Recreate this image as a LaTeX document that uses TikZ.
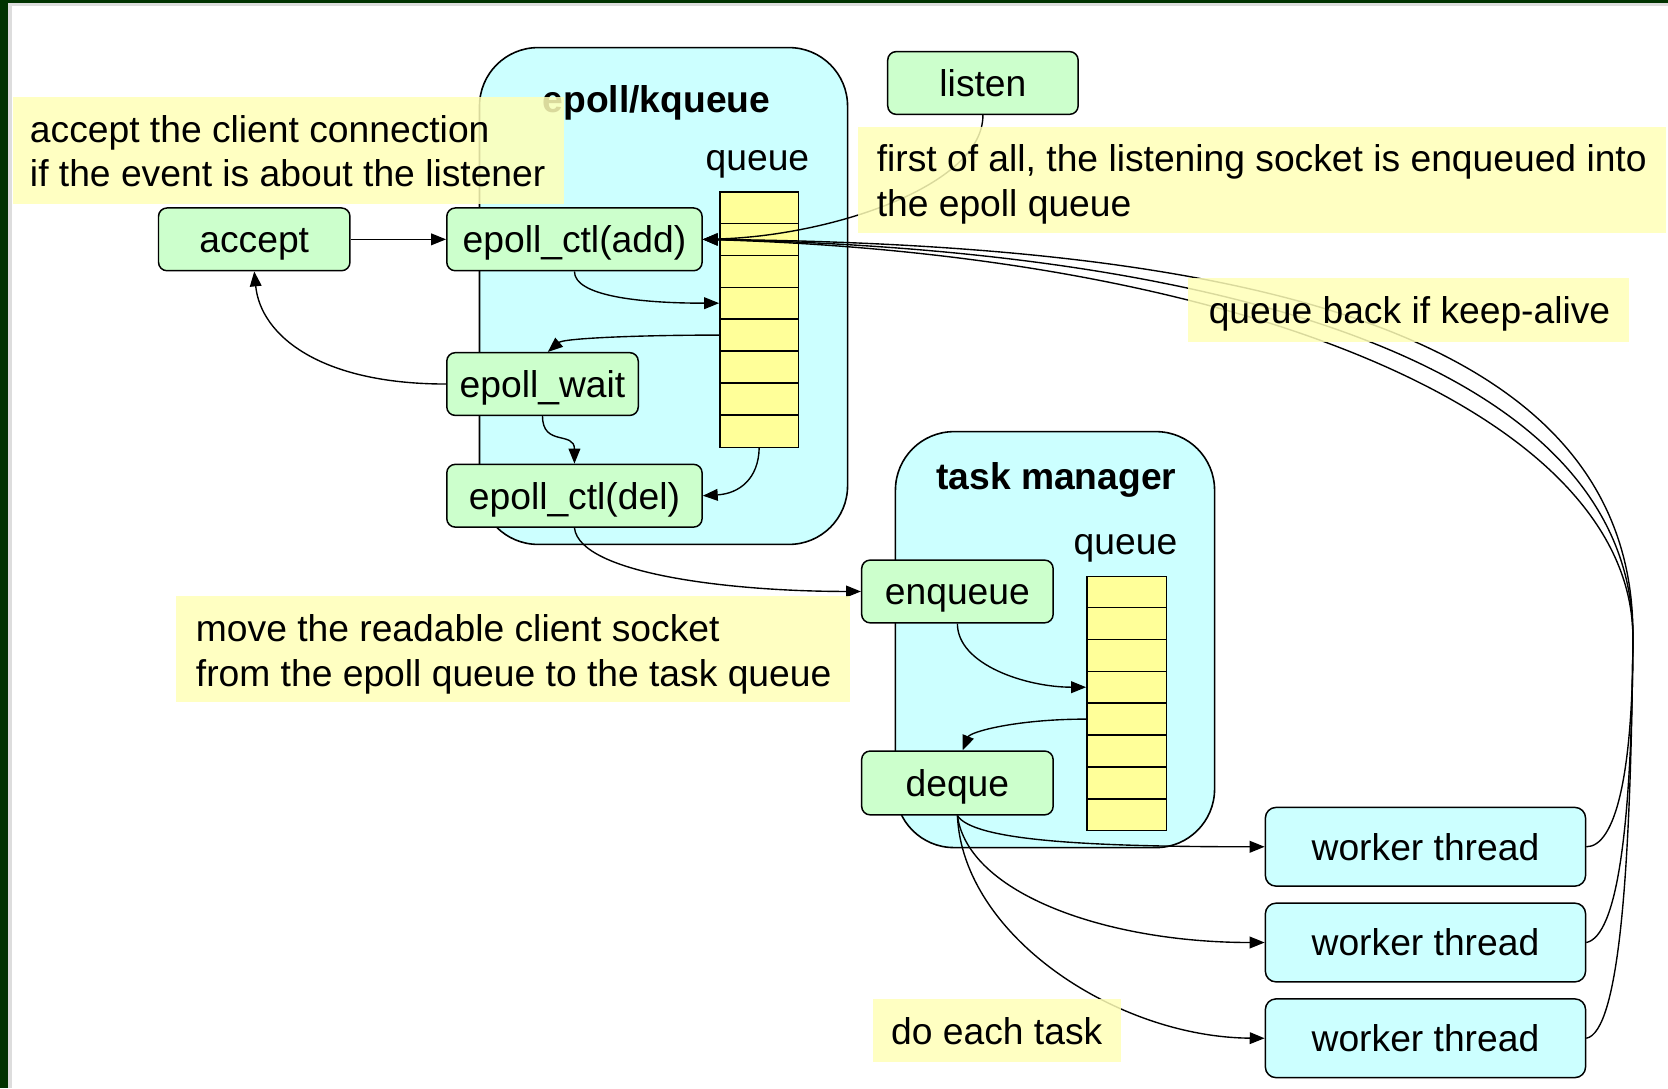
\documentclass[tikz,border=0pt]{standalone}
\usepackage{fontspec}
\setmainfont{Liberation Sans}
\usetikzlibrary{arrows.meta,calc}
\definecolor{frameg}{HTML}{003300}
\definecolor{framegray}{HTML}{DDDDDD}
\definecolor{nodeg}{HTML}{CCFFCC}
\definecolor{cyanf}{HTML}{CCFFFF}
\definecolor{qyel}{HTML}{FFFF99}
\definecolor{notey}{HTML}{FFFFB8}
\begin{document}
\begin{tikzpicture}[x=1pt,y=-1pt,
  every node/.style={font=\fontsize{35}{42}\selectfont, inner sep=0pt},
  fixed/.style={text height=25pt, text depth=0pt},
  proc/.style={fixed, draw=black, line width=1.4pt, fill=nodeg, rounded corners=8pt, minimum height=59pt},
  worker/.style={fixed, draw=black, line width=1.4pt, fill=cyanf, rounded corners=10pt, minimum width=301pt, minimum height=74pt},
  container/.style={draw=black, line width=1.5pt, fill=cyanf, rounded corners=55pt},
  qbox/.style={draw=black, line width=1.3pt, fill=qyel},
  notebg/.style={fill=notey, fill opacity=0.85, draw=none},
  arr/.style={line width=1.3pt, -{Triangle[length=14pt,width=11pt]}},
  title/.style={fixed, font=\bfseries\fontsize{35}{42}\selectfont},
]
\useasboundingbox (0,0) rectangle (1568,1023);
\fill[white] (0,0) rectangle (1568,1023);
\fill[framegray] (7.8,3.1) rectangle (1568,5.3);
\fill[framegray] (7.8,3.1) rectangle (10.9,1023);
\fill[frameg] (0,0) rectangle (1568,3.1);
\fill[frameg] (0,0) rectangle (7.8,1023);

% containers
\node[container, minimum width=346pt, minimum height=467pt, anchor=north west] (epc) at (450,44) {};
\node[container, minimum width=300pt, minimum height=391pt, anchor=north west] (tmc) at (841,405) {};
\node[title] (t1) at (617,93) {epoll/kqueue};
\node[title] (t2) at (993,448) {task manager};
\node[fixed] (ql1) at (712,148) {queue};
\node[fixed] (ql2) at (1058,509) {queue};

% queues
\node[qbox, minimum width=74pt, minimum height=240pt, anchor=north west] (eq) at (676,180) {};
\foreach \i in {1,...,7}
  \draw[line width=1.3pt] ($(eq.north west)+(0,30*\i)$) -- ($(eq.north east)+(0,30*\i)$);
\node[qbox, minimum width=75pt, minimum height=239pt, anchor=north west] (tq) at (1021,541) {};
\foreach \i in {1,...,7}
  \draw[line width=1.3pt] ($(tq.north west)+(0,30*\i)$) -- ($(tq.north east)+(0,30*\i)$);

% process nodes
\node[proc, minimum width=180pt] (accept) at (239,225) {accept};
\node[proc, minimum width=240pt] (add) at (540,225) {epoll\_ctl(add)};
\node[proc, minimum width=180pt] (wait) at (510,361) {epoll\_wait};
\node[proc, minimum width=240pt] (del) at (540,466) {epoll\_ctl(del)};
\node[proc, minimum width=179pt] (listen) at (924,78) {listen};
\node[proc, minimum width=180pt] (enq) at (900,556) {enqueue};
\node[proc, minimum width=180pt, minimum height=60pt] (deq) at (900,736) {deque};
\node[worker] (w1) at (1340,796) {worker thread};
\node[worker] (w2) at (1340,886) {worker thread};
\node[worker] (w3) at (1340,976) {worker thread};

% anchor points
\coordinate (eqA) at ($(eq.north west)+(0,105)$);
\coordinate (eqB) at ($(eq.north west)+(0,135)$);
\coordinate (waitN) at ($(wait.north)+(5,0)$);
\coordinate (tqA) at ($(tq.north west)+(0,105)$);
\coordinate (tqB) at ($(tq.north west)+(0,135)$);
\coordinate (deqN) at ($(deq.north)+(5,0)$);

% connectors
\draw[arr] (accept.east) -- (add.west);
\draw[arr] (wait.west) .. controls (300,361) and (245,315) .. (accept.south);
\draw[arr] (add.south) .. controls (540,278) and (600,285) .. (eqA);
\draw[arr] (eqB) .. controls (600,315) and (530,318) .. (waitN);
\draw[arr] (wait.south) .. controls (510,420) and (540,405) .. (del.north);
\draw[arr] (eq.south) .. controls (713,450) and (695,464) .. (del.east);
\draw[arr] (listen.south) .. controls (924,175) and (780,222) .. (add.east);
\draw[arr] (del.south) .. controls (545,540) and (690,556) .. (enq.west);
\draw[arr] (enq.south) .. controls (900,625) and (965,646) .. (tqA);
\draw[arr] (tqB) .. controls (955,676) and (912,688) .. (deqN);
\draw[arr] (deq.south) .. controls (915,790) and (1020,796) .. (w1.west);
\draw[arr] (deq.south) .. controls (910,840) and (1040,886) .. (w2.west);
\draw[arr] (deq.south) .. controls (905,880) and (1050,975) .. (w3.west);
\draw[arr] (w1.east) .. controls (1518,796) and (1535,730) .. (1535,600)
  .. controls (1535,390) and (1170,240) .. (add.east);
\draw[arr] (w2.east) .. controls (1520,880) and (1534,780) .. (1535,600)
  .. controls (1536,350) and (1170,235) .. (add.east);
\draw[arr] (w3.east) .. controls (1522,970) and (1533,820) .. (1535,600)
  .. controls (1538,310) and (1170,230) .. (add.east);

% notes
\node[notebg, minimum width=518pt, minimum height=101pt, anchor=north west] (n1) at (12,91) {};
\node[anchor=west, align=left] (n1t) at (28,142) {accept the client connection\\if the event is about the listener};
\node[notebg, minimum width=760pt, minimum height=100pt, anchor=north west] (n2) at (806,119) {};
\node[anchor=west, align=left] (n2t) at (824,173) {first of all, the listening socket is enqueued into\\the epoll queue};
\node[notebg, minimum width=414pt, minimum height=60pt, anchor=north west] (n3) at (1117,261) {};
\node (n3t) at (1325,295) {queue back if keep-alive};
\node[notebg, minimum width=634pt, minimum height=100pt, anchor=north west] (n4) at (165,560) {};
\node[anchor=west, align=left] (n4t) at (184,615) {move the readable client socket\\from the epoll queue to the task queue};
\node[notebg, minimum width=234pt, minimum height=59pt, anchor=north west] (n5) at (820,939) {};
\node (n5t) at (937,969) {do each task};
\end{tikzpicture}
\end{document}
